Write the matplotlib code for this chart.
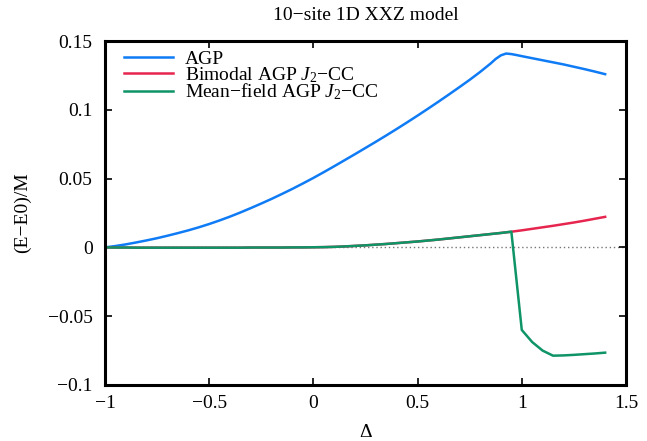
"""10-site 1D XXZ model: AGP vs AGP J2-CC energy errors, gnuplot-like look."""

import matplotlib
matplotlib.use('Agg')
import matplotlib.pyplot as plt
from matplotlib.ticker import FixedLocator, FixedFormatter


# Data --------------------------------------------------------------------

delta = [-1.00, -0.95, -0.90, -0.85, -0.80, -0.75, -0.70, -0.65, -0.60,
         -0.55, -0.50, -0.45, -0.40, -0.35, -0.30, -0.25, -0.20, -0.15,
         -0.10, -0.05, 0.00, 0.05, 0.10, 0.15, 0.20, 0.25, 0.30, 0.35,
         0.40, 0.45, 0.50, 0.55, 0.60, 0.65, 0.70, 0.75, 0.80, 0.85,
         0.90, 0.95, 1.00, 1.05, 1.10, 1.15, 1.20, 1.25, 1.30, 1.35, 1.40]

# AGP has a few extra points around its maximum (rounded peak)
delta_agp = [-1.00, -0.95, -0.90, -0.85, -0.80, -0.75, -0.70, -0.65, -0.60,
             -0.55, -0.50, -0.45, -0.40, -0.35, -0.30, -0.25, -0.20, -0.15,
             -0.10, -0.05, 0.00, 0.05, 0.10, 0.15, 0.20, 0.25, 0.30, 0.35,
             0.40, 0.45, 0.50, 0.55, 0.60, 0.65, 0.70, 0.75, 0.80, 0.85,
             0.875, 0.90, 0.925, 0.95, 0.975, 1.00, 1.05, 1.10, 1.15, 1.20,
             1.25, 1.30, 1.35, 1.40]

agp = [0.0000, 0.0010, 0.0022, 0.0036, 0.0051, 0.0067, 0.0085, 0.0104,
       0.0124, 0.0146, 0.0170, 0.0196, 0.0224, 0.0254, 0.0286, 0.0319,
       0.0353, 0.0389, 0.0426, 0.0465, 0.0505, 0.0547, 0.0590, 0.0634,
       0.0678, 0.0723, 0.0768, 0.0814, 0.0861, 0.0909, 0.0958, 0.1008,
       0.1059, 0.1111, 0.1164, 0.1218, 0.1275, 0.1336,
       0.1370, 0.1396, 0.1409, 0.1405, 0.1398, 0.1390, 0.1375, 0.1360,
       0.1345, 0.1330, 0.1313, 0.1296, 0.1278, 0.1259]

bimodal = [0.0000, -0.0001, -0.0001, -0.0002, -0.0002, -0.0002, -0.0002,
           -0.0002, -0.0002, -0.0002, -0.0002, -0.0002, -0.0002, -0.0002,
           -0.0001, -0.0001, -0.0001, -0.0001, 0.0000, 0.0000, 0.0001,
           0.0002, 0.0004, 0.0007, 0.0011, 0.0015, 0.0020, 0.0025, 0.0031,
           0.0037, 0.0043, 0.0050, 0.0057, 0.0065, 0.0073, 0.0081, 0.0089,
           0.0097, 0.0105, 0.0114, 0.0124, 0.0135, 0.0146, 0.0157, 0.0169,
           0.0181, 0.0194, 0.0208, 0.0222]

mean_field = bimodal[:40] + [-0.0600, -0.0688, -0.0750, -0.0787, -0.0785,
                             -0.0781, -0.0776, -0.0771, -0.0765]

x_ticks = [-1, -0.5, 0, 0.5, 1, 1.5]
x_tick_labels = ['\u22121', '\u22120.5', '0', '0.5', '1', '1.5']
y_ticks = [-0.1, -0.05, 0, 0.05, 0.1, 0.15]
y_tick_labels = ['\u22120.1', '\u22120.05', '0', '0.05', '0.1', '0.15']

colors = {'agp': '#0F7BF5', 'bimodal': '#E6264F', 'mf': '#0E9467'}


# Style --------------------------------------------------------------------

plt.rcParams['font.family'] = ['Liberation Serif', 'DejaVu Serif']
plt.rcParams['mathtext.fontset'] = 'custom'
plt.rcParams['mathtext.rm'] = 'Liberation Serif'
plt.rcParams['mathtext.it'] = 'Liberation Serif:italic'
plt.rcParams['font.size'] = 14

fig = plt.figure(figsize=(6.47, 4.41), dpi=100)
ax = fig.add_axes([0.1623, 0.127, 0.8052, 0.780])

ax.axhline(0, color='#777777', lw=1.0, ls=(0, (1, 2)), zorder=1)

ax.plot(delta_agp, agp, color=colors['agp'], lw=1.8, label='AGP')
ax.plot(delta, bimodal, color=colors['bimodal'], lw=1.8,
        label='Bimodal AGP $J_2$\u2212CC')
ax.plot(delta, mean_field, color=colors['mf'], lw=1.8,
        label='Mean\u2212field AGP $J_2$\u2212CC')

ax.set_xlim(-1, 1.5)
ax.set_ylim(-0.1, 0.15)

ax.xaxis.set_major_locator(FixedLocator(x_ticks))
ax.xaxis.set_major_formatter(FixedFormatter(x_tick_labels))
ax.yaxis.set_major_locator(FixedLocator(y_ticks))
ax.yaxis.set_major_formatter(FixedFormatter(y_tick_labels))

ax.tick_params(direction='in', length=5, width=1.2, top=True, right=True)
ax.tick_params(axis='x', pad=7)
ax.tick_params(axis='y', pad=9)
for spine in ax.spines.values():
    spine.set_linewidth(2.2)

ax.set_title('10\u2212site 1D XXZ model', fontsize=14, pad=15)
ax.set_xlabel('\u0394', labelpad=9)
ax.set_ylabel('(E\u2212E0)/M', labelpad=12)

ax.legend(loc='upper left', bbox_to_anchor=(0.036, 0.973), frameon=False,
          handlelength=2.55, handletextpad=0.6, borderaxespad=0,
          borderpad=0, labelspacing=-0.15)

fig.savefig('out.png', dpi=100)
